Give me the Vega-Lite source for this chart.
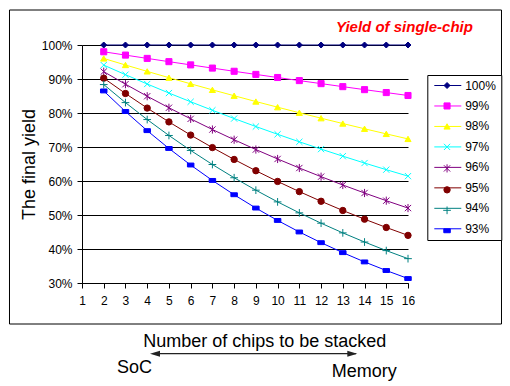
{
  "$schema": "https://vega.github.io/schema/vega-lite/v6.json",
  "width": 326,
  "height": 238,
  "autosize": {"type": "none"},
  "padding": {"left": 82, "top": 45, "right": 102, "bottom": 103},
  "background": "white",
  "config": {
    "font": "Liberation Sans",
    "view": {"stroke": null},
    "axis": {
      "domainColor": "black", "domainWidth": 1,
      "tickColor": "black", "tickWidth": 1, "tickSize": 5,
      "labelColor": "black", "labelFont": "Liberation Sans", "labelFontSize": 12,
      "gridColor": "black", "gridWidth": 1, "gridOpacity": 1,
      "titleFont": "Liberation Sans", "titleFontWeight": "normal", "titleColor": "black"
    }
  },
  "encoding": {
    "x": {
      "field": "n", "type": "quantitative",
      "scale": {"domain": [1, 16], "nice": false, "zero": false},
      "axis": {"values": [1,2,3,4,5,6,7,8,9,10,11,12,13,14,15,16], "format": "d", "grid": false, "labelPadding": 7, "title": null, "labelFlush": false, "labelOverlap": false}
    },
    "y": {
      "field": "y", "type": "quantitative",
      "scale": {"domain": [0.3, 1.0], "nice": false, "zero": false},
      "axis": {"values": [0.3,0.4,0.5,0.6,0.7,0.8,0.9,1.0], "format": ".0%", "grid": true, "labelPadding": 5, "title": "The final yield", "titleFontSize": 18, "titlePadding": 3}
    }
  },
  "layer": [
    {
      "data": {"values": [{"n": -2.336, "n2": 20.302, "y": 1.1029, "y2": 0.1794}]},
      "mark": {"type": "rect", "fill": "transparent", "stroke": "black", "strokeWidth": 1},
      "encoding": {"x2": {"field": "n2"}, "y2": {"field": "y2"}}
    },
    {
      "data": {"name": "yields", "values": [
        {"n":2,"series":"100%","y":1},{"n":3,"series":"100%","y":1},{"n":4,"series":"100%","y":1},{"n":5,"series":"100%","y":1},{"n":6,"series":"100%","y":1},{"n":7,"series":"100%","y":1},{"n":8,"series":"100%","y":1},{"n":9,"series":"100%","y":1},{"n":10,"series":"100%","y":1},{"n":11,"series":"100%","y":1},{"n":12,"series":"100%","y":1},{"n":13,"series":"100%","y":1},{"n":14,"series":"100%","y":1},{"n":15,"series":"100%","y":1},{"n":16,"series":"100%","y":1},
        {"n":2,"series":"99%","y":0.9801},{"n":3,"series":"99%","y":0.9703},{"n":4,"series":"99%","y":0.9606},{"n":5,"series":"99%","y":0.951},{"n":6,"series":"99%","y":0.9415},{"n":7,"series":"99%","y":0.9321},{"n":8,"series":"99%","y":0.9227},{"n":9,"series":"99%","y":0.9135},{"n":10,"series":"99%","y":0.9044},{"n":11,"series":"99%","y":0.8953},{"n":12,"series":"99%","y":0.8864},{"n":13,"series":"99%","y":0.8775},{"n":14,"series":"99%","y":0.8687},{"n":15,"series":"99%","y":0.8601},{"n":16,"series":"99%","y":0.8515},
        {"n":2,"series":"98%","y":0.9604},{"n":3,"series":"98%","y":0.9412},{"n":4,"series":"98%","y":0.9224},{"n":5,"series":"98%","y":0.9039},{"n":6,"series":"98%","y":0.8858},{"n":7,"series":"98%","y":0.8681},{"n":8,"series":"98%","y":0.8508},{"n":9,"series":"98%","y":0.8337},{"n":10,"series":"98%","y":0.8171},{"n":11,"series":"98%","y":0.8007},{"n":12,"series":"98%","y":0.7847},{"n":13,"series":"98%","y":0.769},{"n":14,"series":"98%","y":0.7536},{"n":15,"series":"98%","y":0.7386},{"n":16,"series":"98%","y":0.7238},
        {"n":2,"series":"97%","y":0.9409},{"n":3,"series":"97%","y":0.9127},{"n":4,"series":"97%","y":0.8853},{"n":5,"series":"97%","y":0.8587},{"n":6,"series":"97%","y":0.833},{"n":7,"series":"97%","y":0.808},{"n":8,"series":"97%","y":0.7837},{"n":9,"series":"97%","y":0.7602},{"n":10,"series":"97%","y":0.7374},{"n":11,"series":"97%","y":0.7153},{"n":12,"series":"97%","y":0.6938},{"n":13,"series":"97%","y":0.673},{"n":14,"series":"97%","y":0.6528},{"n":15,"series":"97%","y":0.6333},{"n":16,"series":"97%","y":0.6143},
        {"n":2,"series":"96%","y":0.9216},{"n":3,"series":"96%","y":0.8847},{"n":4,"series":"96%","y":0.8493},{"n":5,"series":"96%","y":0.8154},{"n":6,"series":"96%","y":0.7828},{"n":7,"series":"96%","y":0.7514},{"n":8,"series":"96%","y":0.7214},{"n":9,"series":"96%","y":0.6925},{"n":10,"series":"96%","y":0.6648},{"n":11,"series":"96%","y":0.6382},{"n":12,"series":"96%","y":0.6127},{"n":13,"series":"96%","y":0.5882},{"n":14,"series":"96%","y":0.5647},{"n":15,"series":"96%","y":0.5421},{"n":16,"series":"96%","y":0.5204},
        {"n":2,"series":"95%","y":0.9025},{"n":3,"series":"95%","y":0.8574},{"n":4,"series":"95%","y":0.8145},{"n":5,"series":"95%","y":0.7738},{"n":6,"series":"95%","y":0.7351},{"n":7,"series":"95%","y":0.6983},{"n":8,"series":"95%","y":0.6634},{"n":9,"series":"95%","y":0.6302},{"n":10,"series":"95%","y":0.5987},{"n":11,"series":"95%","y":0.5688},{"n":12,"series":"95%","y":0.5404},{"n":13,"series":"95%","y":0.5133},{"n":14,"series":"95%","y":0.4877},{"n":15,"series":"95%","y":0.4633},{"n":16,"series":"95%","y":0.4401},
        {"n":2,"series":"94%","y":0.8836},{"n":3,"series":"94%","y":0.8306},{"n":4,"series":"94%","y":0.7807},{"n":5,"series":"94%","y":0.7339},{"n":6,"series":"94%","y":0.6899},{"n":7,"series":"94%","y":0.6485},{"n":8,"series":"94%","y":0.6096},{"n":9,"series":"94%","y":0.573},{"n":10,"series":"94%","y":0.5386},{"n":11,"series":"94%","y":0.5063},{"n":12,"series":"94%","y":0.4759},{"n":13,"series":"94%","y":0.4474},{"n":14,"series":"94%","y":0.4205},{"n":15,"series":"94%","y":0.3953},{"n":16,"series":"94%","y":0.3716},
        {"n":2,"series":"93%","y":0.8649},{"n":3,"series":"93%","y":0.8044},{"n":4,"series":"93%","y":0.7481},{"n":5,"series":"93%","y":0.6957},{"n":6,"series":"93%","y":0.647},{"n":7,"series":"93%","y":0.6017},{"n":8,"series":"93%","y":0.5596},{"n":9,"series":"93%","y":0.5204},{"n":10,"series":"93%","y":0.484},{"n":11,"series":"93%","y":0.4501},{"n":12,"series":"93%","y":0.4186},{"n":13,"series":"93%","y":0.3893},{"n":14,"series":"93%","y":0.362},{"n":15,"series":"93%","y":0.3367},{"n":16,"series":"93%","y":0.3131}
      ]},
      "mark": {"type": "line", "strokeWidth": 1},
      "encoding": {
        "color": {
          "field": "series", "type": "nominal", "sort": ["100%","99%","98%","97%","96%","95%","94%","93%"],
          "scale": {"range": ["#000080","#FF00FF","#FFFF00","#00FFFF","#800080","#800000","#008080","#0000FF"]},
          "legend": {"orient": "none", "legendX": 345.3, "legendY": 30, "direction": "vertical", "title": null,
            "symbolType": "M-1,0L6.71,0", "symbolSize": 49, "symbolStrokeWidth": 1,
            "labelFontSize": 12, "labelFont": "Liberation Sans", "labelColor": "black", "labelOffset": 21.4,
            "padding": 4.5, "rowPadding": 8.47, "strokeColor": "black", "fillColor": "white"}
        }
      }
    },
    {
      "data": {"name": "yields"},
      "mark": {"type": "point", "filled": true, "opacity": 1, "strokeWidth": 1},
      "encoding": {
        "shape": {"field": "series", "type": "nominal",
          "scale": {"domain": ["100%","99%","98%","97%","96%","95%","94%","93%"], "range": ["diamond","square","triangle-up","M-1,-1L1,1M-1,1L1,-1","M-1,-1L1,1M-1,1L1,-1M0,-1.3L0,1.3","circle","M-1.2,0L1.2,0M0,-1.2L0,1.2","M-1,-0.6L1,-0.6L1,0.6L-1,0.6Z"]},
          "legend": {"orient": "none", "legendX": 354.55, "legendY": 30, "direction": "vertical", "title": null,
            "labelFontSize": 12, "labelFont": "Liberation Sans", "labelExpr": "''", "symbolOpacity": 1, "symbolStrokeWidth": 1,
            "padding": 4.5, "rowPadding": 8.47}
        },
        "fill": {"field": "series", "type": "nominal",
          "scale": {"domain": ["100%","99%","98%","97%","96%","95%","94%","93%"], "range": ["#000080","#FF00FF","#FFFF00","#00FFFF","#800080","#800000","#008080","#0000FF"]}},
        "stroke": {"field": "series", "type": "nominal",
          "scale": {"domain": ["100%","99%","98%","97%","96%","95%","94%","93%"], "range": ["#000080","#FF00FF","#FFFF00","#00FFFF","#800080","#800000","#008080","#0000FF"]}},
        "size": {"field": "series", "type": "nominal",
          "scale": {"domain": ["100%","99%","98%","97%","96%","95%","94%","93%"], "range": [36, 42, 56, 36, 42, 49, 49, 16]}}
      }
    },
    {
      "data": {"values": [{"n": 4.3, "n2": 13.6, "y": 0.092}]},
      "mark": {"type": "rule", "color": "#222222", "strokeWidth": 1.3},
      "encoding": {"x2": {"field": "n2"}}
    },
    {
      "data": {"values": [{"n": 4.359, "y": 0.092}]},
      "mark": {"type": "point", "shape": "M-1,0L1,-0.6L1,0.6Z", "size": 100, "filled": true, "color": "#222222", "opacity": 1}
    },
    {
      "data": {"values": [{"n": 13.437, "y": 0.092}]},
      "mark": {"type": "point", "shape": "M1,0L-1,-0.6L-1,0.6Z", "size": 100, "filled": true, "color": "#222222", "opacity": 1}
    },
    {
      "data": {"values": [
        {"n": 9.411, "y": 0.1126, "label": "Number of chips to be stacked"},
        {"n": 3.416, "y": 0.0362, "label": "SoC"},
        {"n": 13.985, "y": 0.025, "label": "Memory"}
      ]},
      "mark": {"type": "text", "font": "Liberation Sans", "fontSize": 18, "align": "center", "baseline": "alphabetic", "color": "black"},
      "encoding": {"text": {"field": "label"}}
    },
    {
      "data": {"values": [{"n": 12.687, "y": 1.0391, "label": "Yield of single-chip"}]},
      "mark": {"type": "text", "font": "Liberation Sans", "fontSize": 15, "fontStyle": "italic", "fontWeight": "bold", "align": "left", "baseline": "alphabetic", "color": "#FF0000"},
      "encoding": {"text": {"field": "label"}}
    }
  ]
}
